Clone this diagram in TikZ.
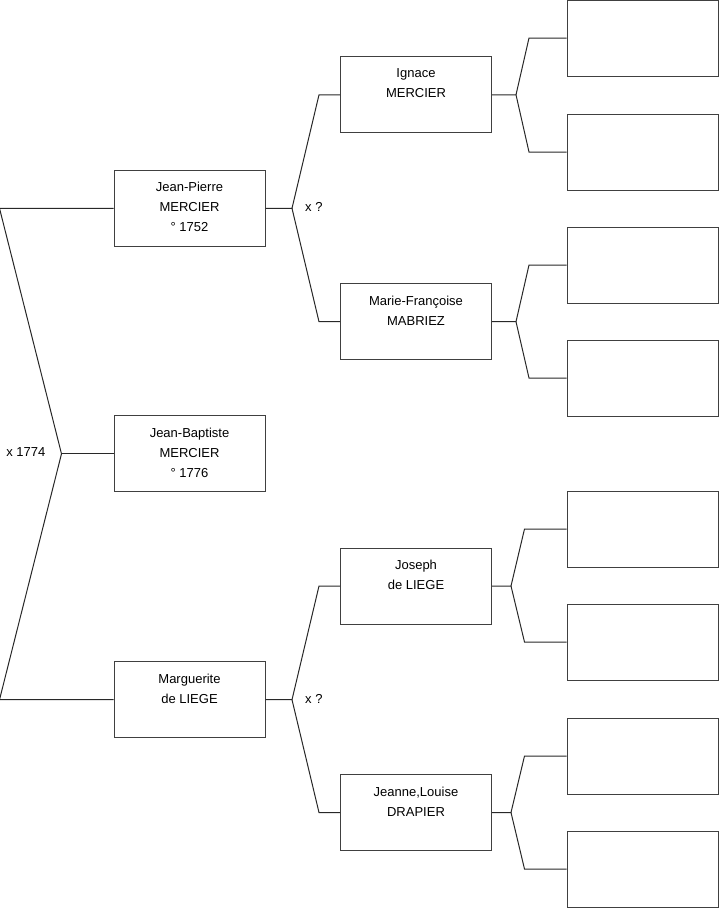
\documentclass[tikz,border=0pt]{standalone}
\usepackage{fontspec}
\setmainfont{Liberation Sans}
\usepackage{tikz}
\usetikzlibrary{calc,positioning}
\definecolor{boxc}{RGB}{64,64,64}
\definecolor{linkc}{RGB}{40,40,40}

\begin{document}
\begin{tikzpicture}[x=1pt,y=-1pt,
    box/.style={draw=boxc,line width=1pt,minimum width=151pt,minimum height=76pt,inner sep=0pt},
    who/.style={anchor=north,align=center,inner sep=0pt,font=\fontsize{13}{20}\selectfont},
    link/.style={draw=linkc,line width=1pt},
    wed/.style={inner sep=0pt,font=\fontsize{13}{20}\selectfont}]
  \useasboundingbox (0,0) rectangle (719,908);
  % people with a name
  \foreach \id/\x/\y/\txt in {jp/189.5/208.3/{Jean-Pierre\\MERCIER\\° 1752},
      jb/189.5/453.8/{Jean-Baptiste\\MERCIER\\° 1776},
      mg/189.5/699.7/{Marguerite\\de LIEGE},
      ig/416/94.8/{Ignace\\MERCIER},
      mf/416/321.7/{Marie-Françoise\\MABRIEZ},
      jo/416/586/{Joseph\\de LIEGE},
      jl/416/812.5/{Jeanne,Louise\\DRAPIER}} {
    \node[box] (\id) at (\x,\y) {};
    \node[who] at ([yshift=-12.5pt]\id.north) {\txt};
  }
  % empty boxes of the last generation
  \foreach \i/\y in {1/38,2/152,3/265,4/378,5/529,6/642,7/756,8/869}
    \node[box] (a\i) at (642.5,\y) {};
  % parents of the central child
  \coordinate (x-jb) at ($(jb.west)+(-52,0)$);
  \draw[link] (jp.west) -- ($(jp.west)+(-114,0)$) -- (x-jb) -- ($(mg.west)+(-114,0)$) -- (mg.west);
  \draw[link] (x-jb) -- (jb.west);
  \node[wed,anchor=base east] at ([xshift=-16pt,yshift=-2.7pt]x-jb) {x 1774};
  % parents of the others
  \foreach \kid/\pa/\ma/\dj/\db in {jp/ig/mf/26.5/21,mg/jo/jl/26.5/21,ig/a1/a2/24/37.5,
      mf/a3/a4/24/37.5,jo/a5/a6/19/42,jl/a7/a8/19/42} {
    \coordinate (x-\kid) at ($(\kid.east)+(\dj,0)$);
    \draw[link] (\kid.east) -- (x-\kid) -- ($(\pa.west)+(-\db,0)$) -- (\pa.west);
    \draw[link] (x-\kid) -- ($(\ma.west)+(-\db,0)$) -- (\ma.west);
  }
  \node[wed,anchor=base west] at ([xshift=13pt,yshift=-3.4pt]x-jp) {x ?};
  \node[wed,anchor=base west] at ([xshift=13pt,yshift=-3.4pt]x-mg) {x ?};
\end{tikzpicture}
\end{document}
